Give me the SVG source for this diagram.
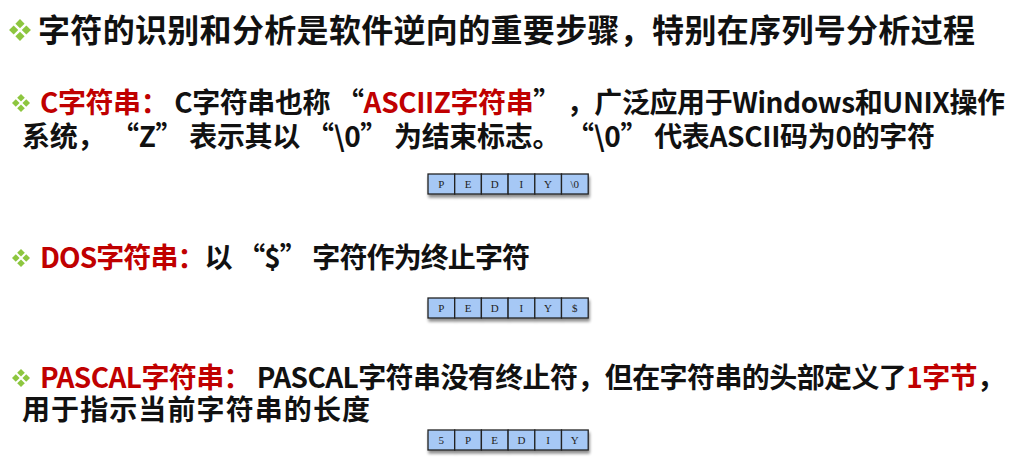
<svg xmlns="http://www.w3.org/2000/svg" width="1027" height="470" viewBox="0 0 1027 470">
<defs>
<style>
.t{font-family:"Noto Sans CJK SC","Noto Sans",sans-serif;font-weight:bold;fill:#111;}
.r{fill:#c00000;}
.cell{fill:#a6c8f5;stroke:#222;stroke-width:1.3;}
.ch{font-family:"Liberation Serif",serif;font-size:11px;fill:#222;text-anchor:middle;}
.bul{fill:#8dc63f;}
</style>
<g id="bullet">
<polygon class="bul" points="0,-9.5 4,-5.5 0,-1.5 -4,-5.5"/>
<polygon class="bul" points="0,1.5 4,5.5 0,9.5 -4,5.5"/>
<polygon class="bul" points="-9.5,0 -5.5,-4 -1.5,0 -5.5,4"/>
<polygon class="bul" points="1.5,0 5.5,-4 9.5,0 5.5,4"/>
</g>
<filter id="sh" x="-10%" y="-30%" width="120%" height="180%">
<feGaussianBlur in="SourceAlpha" stdDeviation="1.5"/>
<feOffset dx="1" dy="2.5" result="b"/>
<feComponentTransfer><feFuncA type="linear" slope="0.45"/></feComponentTransfer>
<feMerge><feMergeNode/><feMergeNode in="SourceGraphic"/></feMerge>
</filter>
</defs>
<rect width="1027" height="470" fill="#ffffff"/>

<g id="title">
<use href="#bullet" transform="translate(20,30) scale(1.15)"/>
<text class="t" x="38" y="42" font-size="32" textLength="937" lengthAdjust="spacing">字符的识别和分析是软件逆向的重要步骤，特别在序列号分析过程</text>
</g>

<g id="c-string">
<use href="#bullet" transform="translate(21,103) scale(0.95)"/>
<text class="t" x="40" y="113" font-size="28" textLength="965" lengthAdjust="spacing"><tspan class="r">C字符串：</tspan> C字符串也称 “<tspan class="r">ASCIIZ字符串</tspan>” ，广泛应用于Windows和UNIX操作</text>
<text class="t" x="22" y="147" font-size="28" textLength="913" lengthAdjust="spacing">系统， “Z” 表示其以 “\0” 为结束标志。 “\0” 代表ASCII码为0的字符</text>
</g>

<g id="c-box" filter="url(#sh)">
<rect class="cell" x="428" y="174" width="26.7" height="20"/>
<rect class="cell" x="454.7" y="174" width="26.7" height="20"/>
<rect class="cell" x="481.4" y="174" width="26.7" height="20"/>
<rect class="cell" x="508.1" y="174" width="26.7" height="20"/>
<rect class="cell" x="534.8" y="174" width="26.7" height="20"/>
<rect class="cell" x="561.5" y="174" width="26.7" height="20"/>
</g>
<g id="c-box-text">
<text class="ch" x="441.3" y="188">P</text>
<text class="ch" x="468" y="188">E</text>
<text class="ch" x="494.7" y="188">D</text>
<text class="ch" x="521.4" y="188">I</text>
<text class="ch" x="548.1" y="188">Y</text>
<text class="ch" x="574.8" y="188">\0</text>
</g>

<g id="dos-string">
<use href="#bullet" transform="translate(21,258) scale(0.95)"/>
<text class="t" x="40" y="268" font-size="28" textLength="490" lengthAdjust="spacing"><tspan class="r">DOS字符串：</tspan>以 “$” 字符作为终止字符</text>
</g>

<g id="dos-box" filter="url(#sh)">
<rect class="cell" x="428" y="298" width="26.7" height="20"/>
<rect class="cell" x="454.7" y="298" width="26.7" height="20"/>
<rect class="cell" x="481.4" y="298" width="26.7" height="20"/>
<rect class="cell" x="508.1" y="298" width="26.7" height="20"/>
<rect class="cell" x="534.8" y="298" width="26.7" height="20"/>
<rect class="cell" x="561.5" y="298" width="26.7" height="20"/>
</g>
<g id="dos-box-text">
<text class="ch" x="441.3" y="312">P</text>
<text class="ch" x="468" y="312">E</text>
<text class="ch" x="494.7" y="312">D</text>
<text class="ch" x="521.4" y="312">I</text>
<text class="ch" x="548.1" y="312">Y</text>
<text class="ch" x="574.8" y="312">$</text>
</g>

<g id="pascal-string">
<use href="#bullet" transform="translate(21,378) scale(0.95)"/>
<text class="t" x="40" y="388" font-size="28" textLength="965" lengthAdjust="spacing"><tspan class="r">PASCAL字符串：</tspan> PASCAL字符串没有终止符，但在字符串的头部定义了<tspan class="r">1字节</tspan>，</text>
<text class="t" x="22" y="420" font-size="28" textLength="348" lengthAdjust="spacing">用于指示当前字符串的长度</text>
</g>

<g id="pascal-box" filter="url(#sh)">
<rect class="cell" x="428" y="430" width="26.7" height="20"/>
<rect class="cell" x="454.7" y="430" width="26.7" height="20"/>
<rect class="cell" x="481.4" y="430" width="26.7" height="20"/>
<rect class="cell" x="508.1" y="430" width="26.7" height="20"/>
<rect class="cell" x="534.8" y="430" width="26.7" height="20"/>
<rect class="cell" x="561.5" y="430" width="26.7" height="20"/>
</g>
<g id="pascal-box-text">
<text class="ch" x="441.3" y="444">5</text>
<text class="ch" x="468" y="444">P</text>
<text class="ch" x="494.7" y="444">E</text>
<text class="ch" x="521.4" y="444">D</text>
<text class="ch" x="548.1" y="444">I</text>
<text class="ch" x="574.8" y="444">Y</text>
</g>
</svg>
